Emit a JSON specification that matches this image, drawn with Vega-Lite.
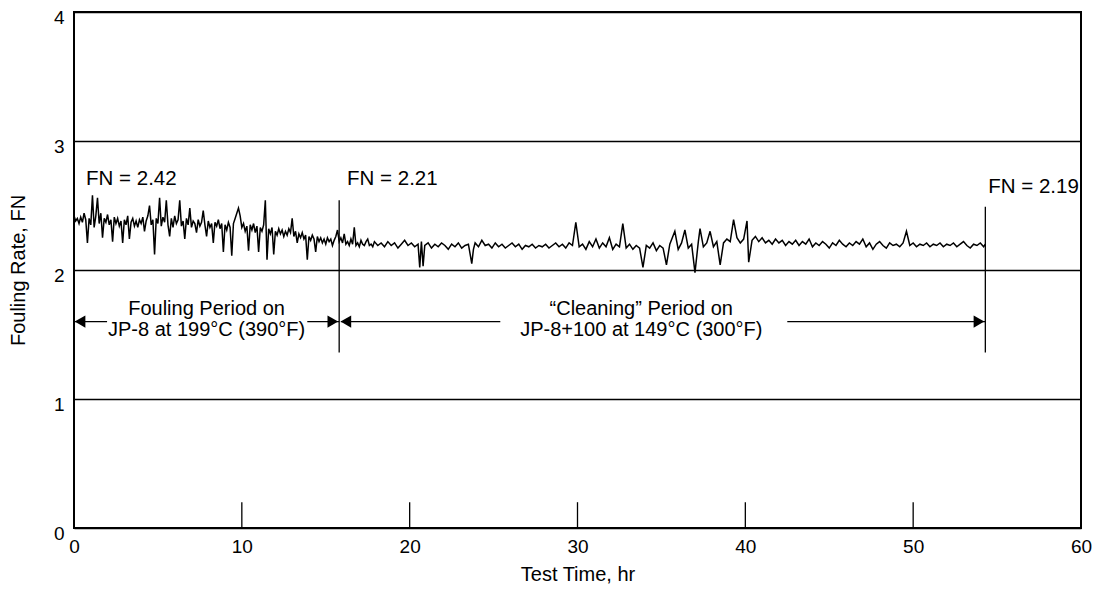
{
  "$schema": "https://vega.github.io/schema/vega-lite/v6.json",
  "width": 1007,
  "height": 516,
  "autosize": {"type": "none"},
  "padding": {"left": 74, "top": 12, "right": 18, "bottom": 64},
  "background": "white",
  "config": {
    "view": {"stroke": "black", "strokeWidth": 2},
    "font": "Liberation Sans",
    "text": {"font": "Liberation Sans", "fontSize": 20, "color": "black"},
    "axisX": {"ticks": false, "tickSize": 0, "domain": false, "grid": false, "format": "d",
      "labelPadding": 9, "labelFontSize": 19, "labelColor": "black", "labelFlush": false, "labelFont": "Liberation Sans",
      "titleFontSize": 20, "titleFontWeight": "normal", "titleColor": "black", "titlePadding": 8, "titleFont": "Liberation Sans"},
    "axisY": {"ticks": false, "tickSize": 0, "domain": false, "grid": true, "format": "d",
      "gridColor": "black", "gridOpacity": 1, "gridWidth": 1.5,
      "labelPadding": 10, "labelOffset": 5, "labelFontSize": 19, "labelColor": "black", "labelFlush": false, "labelFont": "Liberation Sans",
      "titleFontSize": 20, "titleFontWeight": "normal", "titleColor": "black", "titlePadding": 25, "titleFont": "Liberation Sans"}
  },
  "datasets": {
    "series": [
      {"t":0.0,"f":2.42},{"t":0.1,"f":2.38},{"t":0.2,"f":2.40},{"t":0.3,"f":2.36},{"t":0.4,"f":2.41},{"t":0.5,"f":2.37},{"t":0.6,"f":2.44},{"t":0.7,"f":2.39},{"t":0.8,"f":2.21},{"t":0.9,"f":2.40},
      {"t":1.0,"f":2.35},{"t":1.1,"f":2.58},{"t":1.2,"f":2.33},{"t":1.3,"f":2.42},{"t":1.4,"f":2.56},{"t":1.5,"f":2.36},{"t":1.6,"f":2.44},{"t":1.7,"f":2.25},{"t":1.8,"f":2.40},{"t":1.9,"f":2.37},
      {"t":2.0,"f":2.43},{"t":2.1,"f":2.35},{"t":2.2,"f":2.39},{"t":2.3,"f":2.22},{"t":2.4,"f":2.41},{"t":2.5,"f":2.36},{"t":2.6,"f":2.40},{"t":2.7,"f":2.34},{"t":2.8,"f":2.38},{"t":2.9,"f":2.21},
      {"t":3.0,"f":2.39},{"t":3.1,"f":2.35},{"t":3.2,"f":2.42},{"t":3.3,"f":2.24},{"t":3.4,"f":2.37},{"t":3.5,"f":2.40},{"t":3.6,"f":2.34},{"t":3.7,"f":2.38},{"t":3.8,"f":2.33},{"t":3.9,"f":2.39},
      {"t":4.0,"f":2.36},{"t":4.1,"f":2.41},{"t":4.2,"f":2.30},{"t":4.3,"f":2.38},{"t":4.4,"f":2.42},{"t":4.5,"f":2.50},{"t":4.6,"f":2.35},{"t":4.7,"f":2.39},{"t":4.8,"f":2.12},{"t":4.9,"f":2.40},
      {"t":5.0,"f":2.36},{"t":5.1,"f":2.56},{"t":5.2,"f":2.34},{"t":5.3,"f":2.41},{"t":5.4,"f":2.37},{"t":5.5,"f":2.54},{"t":5.6,"f":2.35},{"t":5.7,"f":2.26},{"t":5.8,"f":2.40},{"t":5.9,"f":2.33},
      {"t":6.0,"f":2.42},{"t":6.1,"f":2.36},{"t":6.2,"f":2.39},{"t":6.3,"f":2.54},{"t":6.4,"f":2.34},{"t":6.5,"f":2.38},{"t":6.6,"f":2.24},{"t":6.7,"f":2.40},{"t":6.8,"f":2.35},{"t":6.9,"f":2.48},
      {"t":7.0,"f":2.33},{"t":7.1,"f":2.38},{"t":7.2,"f":2.36},{"t":7.3,"f":2.29},{"t":7.4,"f":2.39},{"t":7.5,"f":2.34},{"t":7.6,"f":2.37},{"t":7.7,"f":2.46},{"t":7.8,"f":2.35},{"t":7.9,"f":2.26},
      {"t":8.0,"f":2.38},{"t":8.1,"f":2.33},{"t":8.2,"f":2.36},{"t":8.3,"f":2.21},{"t":8.4,"f":2.37},{"t":8.5,"f":2.34},{"t":8.6,"f":2.39},{"t":8.7,"f":2.32},{"t":8.8,"f":2.36},{"t":8.9,"f":2.14},
      {"t":9.0,"f":2.35},{"t":9.1,"f":2.31},{"t":9.2,"f":2.37},{"t":9.3,"f":2.33},{"t":9.4,"f":2.11},{"t":9.5,"f":2.36},{"t":9.6,"f":2.40},{"t":9.7,"f":2.44},{"t":9.8,"f":2.48},{"t":9.9,"f":2.42},
      {"t":10.0,"f":2.33},{"t":10.1,"f":2.36},{"t":10.2,"f":2.30},{"t":10.3,"f":2.34},{"t":10.4,"f":2.15},{"t":10.5,"f":2.35},{"t":10.6,"f":2.31},{"t":10.7,"f":2.36},{"t":10.8,"f":2.29},{"t":10.9,"f":2.34},
      {"t":11.0,"f":2.14},{"t":11.1,"f":2.33},{"t":11.2,"f":2.30},{"t":11.3,"f":2.35},{"t":11.4,"f":2.54},{"t":11.5,"f":2.08},{"t":11.6,"f":2.32},{"t":11.7,"f":2.28},{"t":11.8,"f":2.33},{"t":11.9,"f":2.12},
      {"t":12.0,"f":2.30},{"t":12.1,"f":2.27},{"t":12.2,"f":2.32},{"t":12.3,"f":2.28},{"t":12.4,"f":2.31},{"t":12.5,"f":2.26},{"t":12.6,"f":2.30},{"t":12.7,"f":2.27},{"t":12.8,"f":2.32},{"t":12.9,"f":2.29},
      {"t":13.0,"f":2.40},{"t":13.1,"f":2.26},{"t":13.2,"f":2.30},{"t":13.3,"f":2.21},{"t":13.4,"f":2.28},{"t":13.5,"f":2.25},{"t":13.6,"f":2.29},{"t":13.7,"f":2.24},{"t":13.8,"f":2.27},{"t":13.9,"f":2.08},
      {"t":14.0,"f":2.26},{"t":14.1,"f":2.23},{"t":14.2,"f":2.27},{"t":14.3,"f":2.24},{"t":14.4,"f":2.14},{"t":14.5,"f":2.26},{"t":14.6,"f":2.22},{"t":14.7,"f":2.25},{"t":14.8,"f":2.21},{"t":14.9,"f":2.24},
      {"t":15.0,"f":2.20},{"t":15.1,"f":2.25},{"t":15.2,"f":2.22},{"t":15.3,"f":2.24},{"t":15.4,"f":2.19},{"t":15.5,"f":2.23},{"t":15.6,"f":2.26},{"t":15.7,"f":2.31},{"t":15.8,"f":2.22},
      {"t":15.9,"f":2.25},{"t":16.0,"f":2.21},{"t":16.1,"f":2.28},{"t":16.2,"f":2.20},{"t":16.3,"f":2.22},{"t":16.4,"f":2.19},{"t":16.5,"f":2.24},{"t":16.6,"f":2.20},{"t":16.7,"f":2.33},{"t":16.8,"f":2.19},
      {"t":16.9,"f":2.21},{"t":17.0,"f":2.18},{"t":17.1,"f":2.23},{"t":17.2,"f":2.20},{"t":17.3,"f":2.19},{"t":17.4,"f":2.22},{"t":17.5,"f":2.24},{"t":17.6,"f":2.19},{"t":17.7,"f":2.20},{"t":17.8,"f":2.18},
      {"t":17.9,"f":2.22},{"t":18.1,"f":2.19},{"t":18.3,"f":2.21},{"t":18.5,"f":2.18},{"t":18.7,"f":2.22},{"t":18.9,"f":2.19},{"t":19.1,"f":2.21},{"t":19.3,"f":2.17},{"t":19.5,"f":2.20},{"t":19.7,"f":2.23},
      {"t":19.9,"f":2.19},{"t":20.1,"f":2.21},{"t":20.3,"f":2.18},{"t":20.5,"f":2.20},{"t":20.6,"f":2.02},{"t":20.7,"f":2.22},{"t":20.8,"f":2.03},{"t":20.9,"f":2.19},{"t":21.1,"f":2.21},{"t":21.3,"f":2.17},
      {"t":21.5,"f":2.20},{"t":21.7,"f":2.18},{"t":21.9,"f":2.21},{"t":22.1,"f":2.19},{"t":22.3,"f":2.16},{"t":22.5,"f":2.20},{"t":22.7,"f":2.18},{"t":22.9,"f":2.21},{"t":23.1,"f":2.17},{"t":23.3,"f":2.19},
      {"t":23.5,"f":2.20},{"t":23.7,"f":2.05},{"t":23.8,"f":2.16},{"t":23.9,"f":2.21},{"t":24.1,"f":2.18},{"t":24.3,"f":2.23},{"t":24.5,"f":2.19},{"t":24.7,"f":2.20},{"t":24.9,"f":2.17},{"t":25.1,"f":2.21},
      {"t":25.3,"f":2.18},{"t":25.5,"f":2.20},{"t":25.7,"f":2.17},{"t":25.9,"f":2.19},{"t":26.1,"f":2.21},{"t":26.3,"f":2.18},{"t":26.5,"f":2.20},{"t":26.7,"f":2.16},{"t":26.9,"f":2.19},{"t":27.1,"f":2.18},
      {"t":27.3,"f":2.20},{"t":27.5,"f":2.17},{"t":27.7,"f":2.19},{"t":27.9,"f":2.18},{"t":28.1,"f":2.20},{"t":28.3,"f":2.17},{"t":28.5,"f":2.19},{"t":28.7,"f":2.21},{"t":28.9,"f":2.18},{"t":29.1,"f":2.20},
      {"t":29.3,"f":2.17},{"t":29.5,"f":2.21},{"t":29.7,"f":2.19},{"t":29.9,"f":2.37},{"t":30.1,"f":2.18},{"t":30.3,"f":2.20},{"t":30.5,"f":2.16},{"t":30.7,"f":2.22},{"t":30.9,"f":2.18},{"t":31.1,"f":2.24},
      {"t":31.3,"f":2.17},{"t":31.5,"f":2.21},{"t":31.7,"f":2.18},{"t":31.9,"f":2.25},{"t":32.1,"f":2.16},{"t":32.3,"f":2.20},{"t":32.5,"f":2.18},{"t":32.7,"f":2.36},{"t":32.9,"f":2.17},{"t":33.1,"f":2.20},
      {"t":33.3,"f":2.16},{"t":33.5,"f":2.19},{"t":33.7,"f":2.17},{"t":33.9,"f":2.02},{"t":34.1,"f":2.19},{"t":34.3,"f":2.17},{"t":34.5,"f":2.21},{"t":34.7,"f":2.15},{"t":34.9,"f":2.19},{"t":35.1,"f":2.17},
      {"t":35.3,"f":2.04},{"t":35.5,"f":2.20},{"t":35.8,"f":2.30},{"t":36.0,"f":2.16},{"t":36.2,"f":2.21},{"t":36.4,"f":2.31},{"t":36.6,"f":2.17},{"t":36.8,"f":2.20},{"t":37.0,"f":1.98},{"t":37.2,"f":2.22},
      {"t":37.3,"f":2.32},{"t":37.5,"f":2.18},{"t":37.7,"f":2.21},{"t":37.9,"f":2.30},{"t":38.1,"f":2.18},{"t":38.3,"f":2.22},{"t":38.5,"f":2.04},{"t":38.7,"f":2.21},{"t":38.9,"f":2.24},{"t":39.1,"f":2.22},
      {"t":39.3,"f":2.39},{"t":39.5,"f":2.25},{"t":39.7,"f":2.21},{"t":39.9,"f":2.24},{"t":40.1,"f":2.38},{"t":40.2,"f":2.06},{"t":40.4,"f":2.23},{"t":40.6,"f":2.26},{"t":40.8,"f":2.22},{"t":41.0,"f":2.25},
      {"t":41.2,"f":2.21},{"t":41.4,"f":2.23},{"t":41.6,"f":2.20},{"t":41.8,"f":2.24},{"t":42.0,"f":2.21},{"t":42.2,"f":2.23},{"t":42.4,"f":2.19},{"t":42.6,"f":2.22},{"t":42.8,"f":2.20},{"t":43.0,"f":2.23},
      {"t":43.2,"f":2.19},{"t":43.4,"f":2.22},{"t":43.6,"f":2.20},{"t":43.8,"f":2.24},{"t":44.0,"f":2.18},{"t":44.2,"f":2.21},{"t":44.4,"f":2.19},{"t":44.6,"f":2.22},{"t":44.8,"f":2.20},{"t":45.0,"f":2.17},
      {"t":45.2,"f":2.21},{"t":45.4,"f":2.19},{"t":45.6,"f":2.23},{"t":45.8,"f":2.20},{"t":46.0,"f":2.18},{"t":46.2,"f":2.21},{"t":46.4,"f":2.19},{"t":46.6,"f":2.22},{"t":46.8,"f":2.20},{"t":47.0,"f":2.24},
      {"t":47.2,"f":2.18},{"t":47.4,"f":2.21},{"t":47.6,"f":2.16},{"t":47.8,"f":2.20},{"t":48.0,"f":2.22},{"t":48.2,"f":2.19},{"t":48.4,"f":2.17},{"t":48.6,"f":2.21},{"t":48.8,"f":2.19},{"t":49.0,"f":2.20},
      {"t":49.2,"f":2.18},{"t":49.4,"f":2.21},{"t":49.6,"f":2.30},{"t":49.8,"f":2.19},{"t":50.0,"f":2.21},{"t":50.2,"f":2.18},{"t":50.4,"f":2.20},{"t":50.6,"f":2.19},{"t":50.8,"f":2.21},{"t":51.0,"f":2.18},
      {"t":51.2,"f":2.20},{"t":51.4,"f":2.19},{"t":51.6,"f":2.21},{"t":51.8,"f":2.18},{"t":52.0,"f":2.20},{"t":52.2,"f":2.19},{"t":52.4,"f":2.21},{"t":52.6,"f":2.18},{"t":52.8,"f":2.20},{"t":53.0,"f":2.22},
      {"t":53.2,"f":2.19},{"t":53.4,"f":2.17},{"t":53.6,"f":2.20},{"t":53.8,"f":2.19},{"t":54.0,"f":2.21},{"t":54.2,"f":2.18},{"t":54.3,"f":2.20}
    ],
    "innerTicks": [{"t":10},{"t":20},{"t":30},{"t":40},{"t":50}],
    "markers": [{"t":15.8,"lo":1.36,"hi":2.54},{"t":54.3,"lo":1.36,"hi":2.49}],
    "spans": [{"a":0,"b":1.97,"f":1.6},{"a":13.9,"b":15.8,"f":1.6},{"a":15.9,"b":25.4,"f":1.6},{"a":42.5,"b":54.3,"f":1.6}],
    "heads": [{"t":0.36,"f":1.6,"side":"left"},{"t":15.42,"f":1.6,"side":"right"},{"t":16.2,"f":1.6,"side":"left"},{"t":53.92,"f":1.6,"side":"right"}],
    "fnLabels": [{"t":0.72,"f":2.66,"label":"FN = 2.42"},{"t":16.27,"f":2.66,"label":"FN = 2.21"},{"t":54.47,"f":2.60,"label":"FN = 2.19"}],
    "periodLabels": [
      {"t":7.9,"f":1.655,"label":"Fouling Period on"},
      {"t":7.9,"f":1.49,"label":"JP-8 at 199°C (390°F)"},
      {"t":33.8,"f":1.655,"label":"“Cleaning” Period on"},
      {"t":33.8,"f":1.49,"label":"JP-8+100 at 149°C (300°F)"}
    ]
  },
  "layer": [
    {
      "data": {"name": "series"},
      "mark": {"type": "line", "color": "black", "strokeWidth": 1.5},
      "encoding": {
        "x": {"field": "t", "type": "quantitative", "title": "Test Time, hr", "scale": {"domain": [0, 60], "nice": false, "zero": false},
          "axis": {"values": [0,10,20,30,40,50,60]}},
        "y": {"field": "f", "type": "quantitative", "title": "Fouling Rate, FN", "scale": {"domain": [0, 4], "nice": false, "zero": false},
          "axis": {"values": [0,1,2,3,4]}}
      }
    },
    {
      "data": {"name": "innerTicks"},
      "mark": {"type": "rule", "color": "black", "strokeWidth": 1.3},
      "encoding": {
        "x": {"field": "t", "type": "quantitative", "title": "Test Time, hr"},
        "y": {"datum": 0, "type": "quantitative", "title": "Fouling Rate, FN"},
        "y2": {"datum": 0.2}
      }
    },
    {
      "data": {"name": "markers"},
      "mark": {"type": "rule", "color": "black", "strokeWidth": 1.3},
      "encoding": {
        "x": {"field": "t", "type": "quantitative", "title": "Test Time, hr"},
        "y": {"field": "lo", "type": "quantitative", "title": "Fouling Rate, FN"},
        "y2": {"field": "hi"}
      }
    },
    {
      "data": {"name": "spans"},
      "mark": {"type": "rule", "color": "black", "strokeWidth": 1.3},
      "encoding": {
        "x": {"field": "a", "type": "quantitative", "title": "Test Time, hr"},
        "x2": {"field": "b"},
        "y": {"field": "f", "type": "quantitative", "title": "Fouling Rate, FN"}
      }
    },
    {
      "data": {"name": "heads"},
      "mark": {"type": "point", "filled": true, "color": "black", "size": 150, "opacity": 1},
      "encoding": {
        "x": {"field": "t", "type": "quantitative", "title": "Test Time, hr"},
        "y": {"field": "f", "type": "quantitative", "title": "Fouling Rate, FN"},
        "shape": {"field": "side", "type": "nominal", "scale": {"domain": ["left", "right"], "range": ["triangle-left", "triangle-right"]}, "legend": null}
      }
    },
    {
      "data": {"name": "fnLabels"},
      "mark": {"type": "text", "align": "left", "baseline": "alphabetic", "fontSize": 20.5},
      "encoding": {
        "x": {"field": "t", "type": "quantitative", "title": "Test Time, hr"},
        "y": {"field": "f", "type": "quantitative", "title": "Fouling Rate, FN"},
        "text": {"field": "label"}
      }
    },
    {
      "data": {"name": "periodLabels"},
      "mark": {"type": "text", "align": "center", "baseline": "alphabetic", "fontSize": 20},
      "encoding": {
        "x": {"field": "t", "type": "quantitative", "title": "Test Time, hr"},
        "y": {"field": "f", "type": "quantitative", "title": "Fouling Rate, FN"},
        "text": {"field": "label"}
      }
    }
  ]
}
